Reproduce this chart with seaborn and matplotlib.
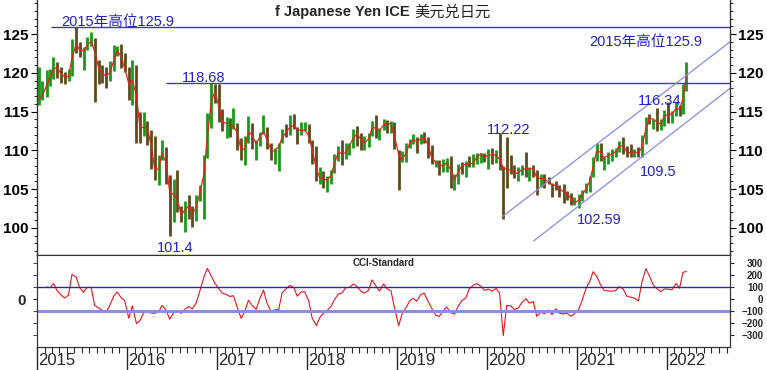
import numpy as np
import pandas as pd
import matplotlib
matplotlib.use("Agg")
import matplotlib.pyplot as plt
import matplotlib.dates as mdates
import matplotlib.transforms as mtrans
from matplotlib.ticker import MultipleLocator, FixedLocator, NullFormatter
import seaborn as sns

# half-month bars (1st-14th / 15th-end), Jan 2015 .. mid Mar 2022
high = [
    # 2015
    120.8, 118.9, 120.4, 120.5, 122.0, 121.4, 120.8, 120.1, 120.5, 124.4, 125.9, 124.0,
    123.4, 124.6, 125.3, 124.5, 121.7, 121.0, 120.7, 121.5, 123.6, 123.5, 123.7, 122.6,
    # 2016
    120.7, 121.7, 121.0, 114.9, 114.9, 113.8, 112.6, 111.9, 109.4, 111.4, 110.4, 106.8,
    106.3, 107.5, 102.8, 103.5, 104.3, 102.8, 104.2, 105.5, 109.4, 114.8, 118.7, 118.6,
    # 2017
    118.6, 115.4, 114.3, 114.2, 115.5, 113.5, 111.6, 111.8, 114.4, 113.5, 111.4, 112.4,
    114.5, 113.0, 111.0, 110.3, 111.0, 112.7, 113.4, 114.5, 114.7, 113.0, 113.7, 113.7,
    # 2018
    113.4, 111.4, 110.5, 107.9, 107.3, 106.7, 107.5, 109.5, 110.5, 111.4, 110.9, 110.9,
    112.8, 113.2, 112.2, 111.8, 112.2, 113.8, 114.6, 112.9, 114.1, 113.9, 113.8, 113.7,
    # 2019
    110.0, 109.9, 111.0, 111.5, 112.1, 111.7, 112.1, 112.4, 111.7, 110.7, 108.8, 108.7,
    108.9, 109.0, 109.3, 106.9, 108.3, 108.5, 108.6, 109.3, 109.5, 109.7, 109.7, 109.7,
    # 2020
    110.2, 110.3, 110.1, 112.2, 108.0, 111.7, 109.4, 108.1, 107.8, 108.1, 109.8, 107.9,
    108.1, 107.5, 107.0, 106.9, 106.6, 105.8, 106.1, 105.5, 105.7, 104.8, 104.5, 104.0,
    # 2021
    104.4, 104.9, 105.8, 106.7, 109.2, 110.9, 110.9, 109.2, 109.8, 110.2, 110.3, 111.2,
    111.7, 110.6, 110.8, 110.2, 110.4, 112.0, 114.3, 114.7, 114.1, 115.5, 114.0, 115.2,
    # 2022
    116.3, 115.1, 116.3, 115.8, 118.5, 121.4,
]
low = [
    # 2015
    115.9, 116.5, 116.9, 118.3, 119.2, 119.3, 118.7, 118.5, 118.9, 119.6, 122.5, 122.0,
    120.4, 123.0, 123.5, 116.2, 118.6, 118.7, 118.1, 118.9, 120.3, 122.2, 120.6, 120.1,
    # 2016
    116.5, 115.9, 110.9, 111.0, 111.8, 110.7, 107.6, 106.2, 105.5, 108.8, 105.6, 99.0,
    100.7, 102.0, 100.7, 99.5, 101.2, 100.1, 100.9, 103.5, 101.2, 109.0, 112.9, 116.1,
    # 2017
    113.6, 112.5, 111.6, 111.7, 112.8, 110.1, 108.7, 108.1, 111.0, 110.2, 108.8, 110.6,
    112.1, 110.2, 108.7, 108.3, 107.3, 110.9, 111.7, 112.0, 112.7, 110.8, 112.0, 112.5,
    # 2018
    110.9, 108.3, 106.0, 105.6, 105.2, 104.6, 105.7, 107.1, 108.6, 108.1, 108.9, 109.4,
    110.3, 110.6, 110.1, 110.0, 110.4, 111.8, 111.6, 111.4, 112.6, 112.3, 112.2, 110.2,
    # 2019
    104.9, 108.5, 108.5, 110.3, 110.8, 109.7, 110.8, 111.0, 109.0, 108.3, 107.8, 106.8,
    107.2, 107.2, 105.1, 104.9, 105.7, 107.0, 106.5, 107.9, 107.9, 108.2, 108.4, 108.5,
    # 2020
    107.6, 108.3, 108.4, 107.5, 101.2, 105.1, 106.9, 106.4, 106.0, 106.8, 106.6, 106.1,
    106.6, 104.2, 105.3, 105.1, 105.6, 104.0, 104.9, 104.0, 103.2, 103.6, 103.0, 102.9,
    # 2021
    102.6, 103.5, 104.5, 104.6, 106.5, 108.6, 108.6, 107.5, 108.3, 108.6, 109.2, 109.8,
    109.5, 109.1, 109.1, 109.1, 109.1, 109.1, 110.8, 113.4, 112.7, 112.5, 112.6, 113.1,
    # 2022
    113.5, 113.5, 114.4, 114.4, 114.7, 117.7,
]
close = [
    # 2015
    116.6, 117.5, 119.3, 119.6, 121.3, 120.1, 119.6, 119.4, 119.6, 124.1, 123.4, 122.5,
    123.2, 123.9, 124.3, 121.2, 120.0, 119.8, 119.4, 120.6, 122.6, 123.1, 121.0, 120.2,
    # 2016
    117.0, 121.0, 113.2, 112.7, 113.2, 112.6, 108.7, 106.5, 108.6, 110.7, 106.0, 103.2,
    105.4, 102.1, 101.2, 103.4, 102.3, 101.3, 104.0, 104.8, 109.1, 114.4, 118.2, 116.9,
    # 2017
    114.5, 112.8, 114.2, 112.8, 113.3, 111.4, 108.8, 111.5, 113.2, 110.8, 110.9, 112.4,
    112.5, 110.3, 109.6, 110.2, 110.8, 112.5, 112.2, 113.6, 112.9, 112.5, 112.6, 112.7,
    # 2018
    111.0, 109.2, 106.1, 106.7, 106.0, 106.3, 107.2, 109.3, 110.3, 108.8, 110.6, 110.7,
    112.4, 111.9, 110.9, 111.0, 112.0, 113.7, 112.2, 112.9, 113.6, 113.4, 113.4, 110.3,
    # 2019
    108.7, 108.9, 110.5, 111.4, 111.4, 110.9, 112.0, 111.4, 109.9, 108.3, 108.5, 107.9,
    108.0, 108.8, 106.1, 106.3, 108.1, 108.0, 108.4, 108.0, 108.8, 109.5, 109.6, 108.7,
    # 2020
    110.0, 108.9, 109.8, 107.9, 107.6, 107.5, 107.3, 106.8, 107.3, 107.8, 107.4, 107.9,
    107.2, 105.8, 106.9, 105.9, 105.7, 105.5, 105.4, 104.7, 104.6, 104.3, 103.2, 103.3,
    # 2021
    103.8, 104.7, 105.4, 106.6, 109.1, 110.7, 108.8, 109.3, 109.4, 109.6, 110.1, 111.1,
    110.0, 109.7, 109.6, 110.0, 109.4, 111.3, 114.2, 114.0, 114.1, 113.1, 113.7, 115.1,
    # 2022
    114.2, 115.2, 115.6, 115.0, 118.3, 121.0,
]

title_en = "f Japanese Yen ICE"
title_cn = "美元兑日元"
year_labels = [2015, 2016, 2017, 2018, 2019, 2020, 2021, 2022]
level_2015 = 125.9
level_2016 = 118.68
# annotation text, date, price
notes = [
    ("2015年高位125.9", "2015-04-08", 126.5),
    ("2015年高位125.9", "2021-02-20", 124.0),
    ("118.68", "2016-08-12", 119.3),
    ("101.4", "2016-05-02", 97.4),
    ("112.22", "2020-01-01", 112.6),
    ("102.59", "2021-01-01", 101.0),
    ("109.5", "2021-09-14", 107.2),
    ("116.34", "2021-09-06", 116.4),
]
channel_top = [("2020-03-02", 101.4), ("2022-09-15", 124.0)]
channel_bot = [("2020-07-09", 98.3), ("2022-09-15", 118.0)]

starts = pd.date_range("2015-01-01", periods=len(close), freq="SMS")
df = pd.DataFrame({"date": starts + pd.Timedelta(days=7),
                   "high": high, "low": low, "close": close})
df["ma"] = df["close"].rolling(2, min_periods=1).mean()
tp = (df["high"] + df["low"] + df["close"]) / 3
n = 10
sma = tp.rolling(n, min_periods=3).mean()
mad = tp.rolling(n, min_periods=3).apply(lambda v: np.abs(v - v.mean()).mean(), raw=True)
df["cci"] = (tp - sma) / (0.015 * mad)

sns.set_style("ticks")
plt.rcParams["font.family"] = ["Liberation Sans", "Noto Sans CJK SC"]
plt.rcParams["font.weight"] = "bold"
plt.rcParams["axes.edgecolor"] = "#333333"

W, H = 767, 370
fig = plt.figure(figsize=(W / 100, H / 100), dpi=100)
ax = fig.add_axes([37 / W, 1 - 255 / H, 693 / W, 255 / H])
ax2 = fig.add_axes([37 / W, 1 - 347 / H, 693 / W, 92 / H], sharex=ax)

x_lo, x_hi = pd.Timestamp("2014-12-31"), pd.Timestamp("2022-09-15")

# price bars
up = df["close"] >= df["close"].shift(1).fillna(df["close"])
ax.vlines(df["date"][up], df["low"][up], df["high"][up], color="#179a17", lw=2.0)
ax.vlines(df["date"][~up], df["low"][~up], df["high"][~up], color="#5e4a1c", lw=2.0)
sns.lineplot(data=df, x="date", y="ma", ax=ax, color="#e8201a", lw=0.9)

line_c = "#3c3caa"
ax.hlines(level_2015, pd.Timestamp("2015-02-27"), x_hi, color=line_c, lw=1)
ax.hlines(level_2016, pd.Timestamp("2016-06-08"), x_hi, color=line_c, lw=1)
for ch in (channel_top, channel_bot):
    ax.plot([pd.Timestamp(d) for d, _ in ch], [v for _, v in ch], color="#8a8ae6", lw=0.9)

for txt, d, v in notes:
    ax.text(pd.Timestamp(d), v, txt, color="#2020c8", fontsize=10.5, fontweight="normal",
            ha="left", va="center")

ax.set_xlim(x_lo, x_hi)
ax.set_ylim(96.5, 129.4)
ax.set_xlabel("")
ax.set_ylabel("")
ax.yaxis.set_major_locator(FixedLocator([100, 105, 110, 115, 120, 125]))
ax.yaxis.set_minor_locator(MultipleLocator(1))
ax.tick_params(axis="y", which="both", left=True, right=True, labelleft=True, labelright=True,
               labelsize=11, colors="black")
ax.tick_params(axis="y", which="major", length=4, pad=2)
ax.tick_params(axis="y", which="minor", length=2.5)
ax.tick_params(axis="x", which="both", bottom=False, labelbottom=False)
ax.spines["top"].set_visible(False)
for s in ax.spines.values():
    s.set_linewidth(1)

fig.text(410 / W, 1 - 12 / H, title_en, ha="right", va="center", fontsize=10.5)
fig.text(414 / W, 1 - 12 / H, title_cn, ha="left", va="center", fontsize=11, fontweight="normal")

# CCI panel
sns.lineplot(data=df, x="date", y="cci", ax=ax2, color="#e8141c", lw=0.8)
ax2.axhline(100, color="#2a2aa0", lw=1)
ax2.axhline(-100, color="#8c8ce0", lw=2.2)
ax2.set_ylim(-398, 365)
ax2.set_xlabel("")
ax2.set_ylabel("")
ax2.text(0.5, 0.915, "CCI-Standard", transform=ax2.transAxes, ha="center", va="center", fontsize=7)
ax2.yaxis.set_major_locator(FixedLocator([0]))
ax2.yaxis.set_minor_locator(FixedLocator([-300, -200, -100, 100, 200, 300]))
ax2.tick_params(axis="y", which="major", labelsize=11, length=3, pad=5)
ax2.tick_params(axis="y", which="minor", length=3)

ax2r = ax2.twinx()
ax2r.set_ylim(-398, 365)
ax2r.yaxis.set_major_locator(FixedLocator([-300, -200, -100, 0, 100, 200, 300]))
ax2r.tick_params(axis="y", length=3, labelsize=7, pad=21)
for lbl in ax2r.get_yticklabels():
    lbl.set_horizontalalignment("right")
ax2r.spines["top"].set_visible(False)

ax2.xaxis.set_major_locator(mdates.YearLocator())
ax2.xaxis.set_minor_locator(mdates.MonthLocator())
ax2.xaxis.set_major_formatter(NullFormatter())
ax2.tick_params(axis="x", which="major", length=17, width=1)
ax2.tick_params(axis="x", which="minor", length=4, width=0.8)
ax2.set_xlim(x_lo, x_hi)

tr = mtrans.blended_transform_factory(ax2.transData, ax2.transAxes)
for yr in year_labels:
    ax2.text(pd.Timestamp(f"{yr}-01-05"), -0.15, str(yr), transform=tr, ha="left", va="center",
             fontsize=12, fontweight="normal")

fig.savefig("out.png", dpi=100, facecolor="white")
